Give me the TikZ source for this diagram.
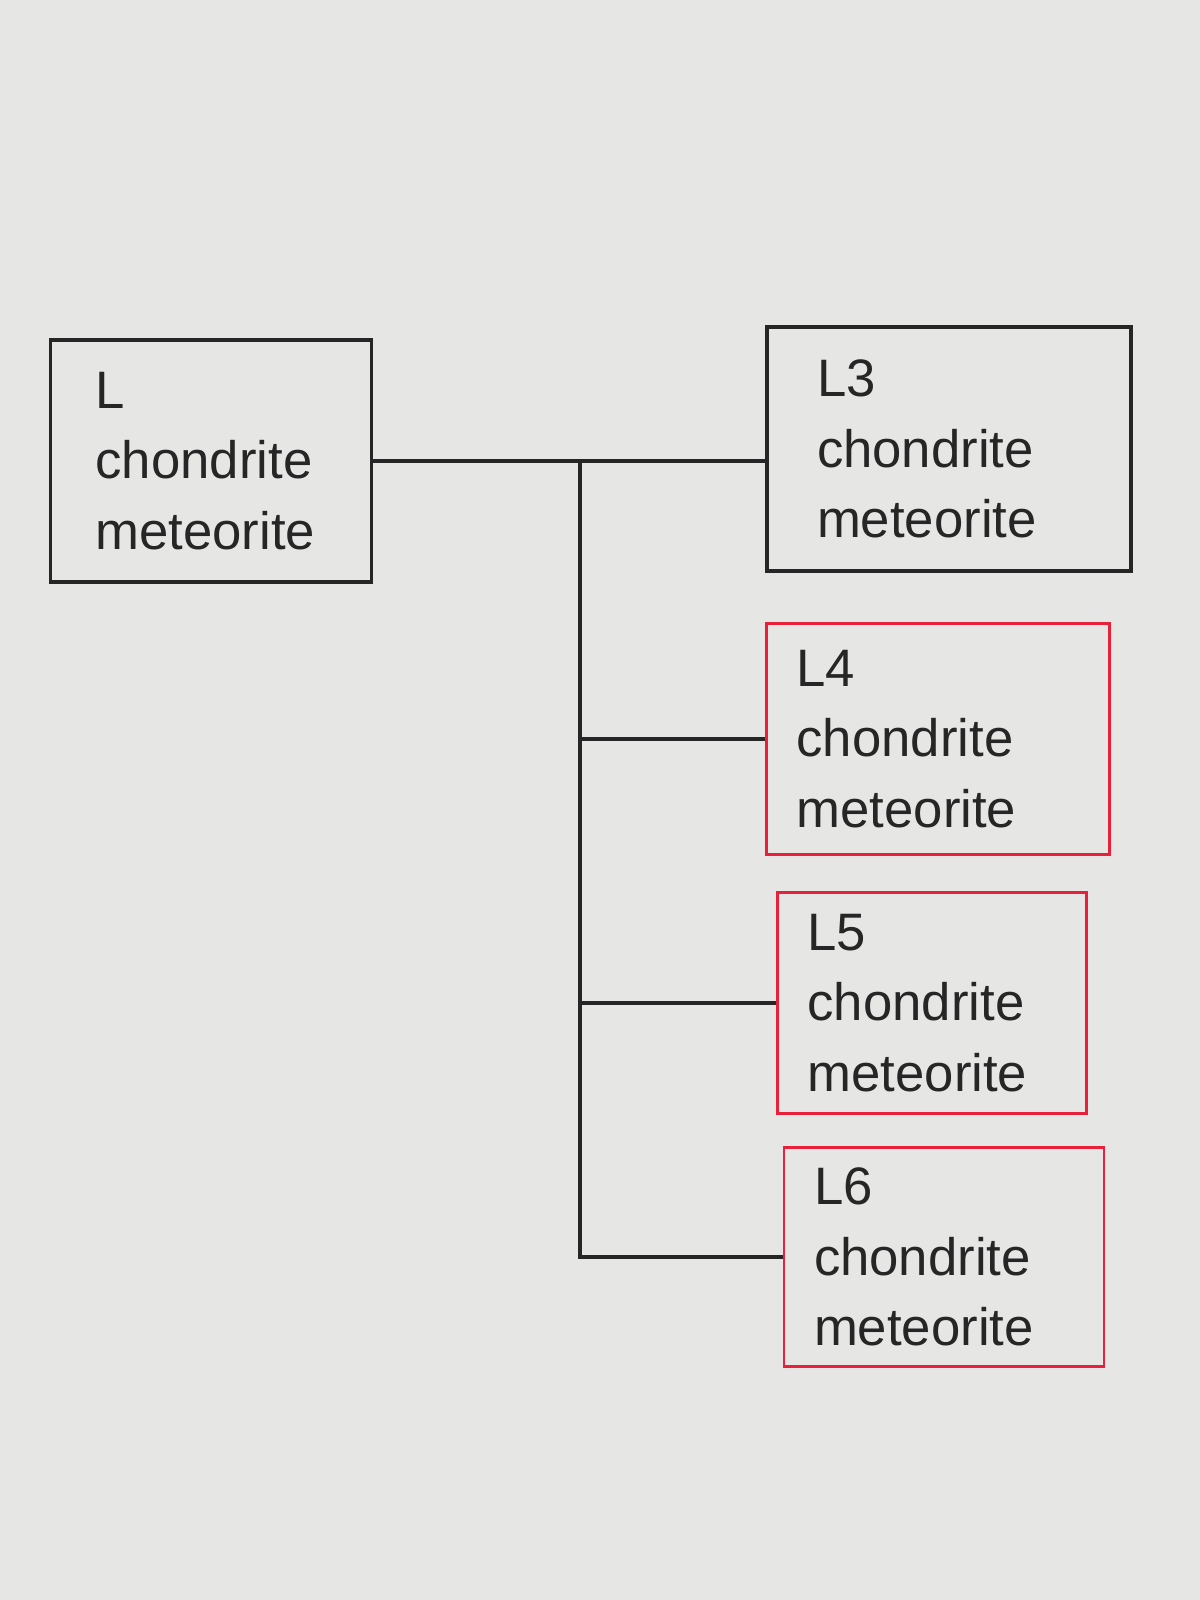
\documentclass[tikz,border=0pt]{standalone}
\usepackage{fontspec}
\setmainfont{Liberation Sans}
\usetikzlibrary{positioning}

\definecolor{paper}{HTML}{E6E7E5}
\definecolor{pen}{HTML}{262626}
\definecolor{redpen}{HTML}{E8203A}

\tikzset{
	box/.style={draw=pen, line width=1.8pt, align=left, text=pen,
		font=\fontsize{30}{40}\selectfont},
	redbox/.style={box, draw=redpen, line width=1.3pt, inner xsep=0.6cm},
	wire/.style={draw=pen, line width=1.8pt},
}

\begin{document}
\begin{tikzpicture}[x=0.02cm, y=-0.02cm]
		\fill[paper] (0, 0) rectangle (1200, 1600); % the sheet
		\useasboundingbox (0, 0) rectangle (1200, 1600);
		
		% parent class
		\node[box, inner xsep=0.9cm, text width=4.62cm, minimum height=4.84cm] (L) at (211, 461)
			{L\\chondrite\\meteorite};
		
		% petrologic types
		\node[box, inner xsep=1cm, text width=5.28cm, minimum height=4.88cm] (L3) at (949, 449)
			{L3\\chondrite\\meteorite};
		\node[redbox, text width=5.66cm, minimum height=4.62cm] (L4) at (938, 739)
			{L4\\chondrite\\meteorite};
		\node[redbox, text width=4.98cm, minimum height=4.42cm] (L5) at (932, 1003)
			{L5\\chondrite\\meteorite};
		\node[redbox, text width=5.2cm, minimum height=4.38cm] (L6) at (944, 1257)
			{L6\\chondrite\\meteorite};
		
		% connectors
		\coordinate (trunk) at (580, 462);
		\draw[wire] (L.east) -- (L.east -| L3.west);
		\draw[wire] (trunk) -- (trunk |- L6.west) -- (L6.west);
		\draw[wire] (trunk |- L4.west) -- (L4.west);
		\draw[wire] (trunk |- L5.west) -- (L5.west);
	\end{tikzpicture}
\end{document}
